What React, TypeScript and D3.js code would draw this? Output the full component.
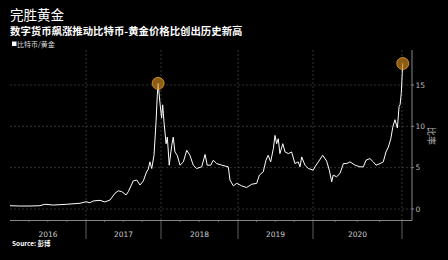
import React from "react";
import * as d3 from "d3";

const title = "完胜黄金";
const subtitle = "数字货币飙涨推动比特币-黄金价格比创出历史新高";
const legendLabel = "比特币/黄金";
const sourceText = "Source: 彭博";
const axisTitle = "比率";

const dates: string[] = [
  "2016-01-01","2016-02-17","2016-04-06","2016-05-24","2016-06-17","2016-07-27","2016-09-30","2016-12-03",
  "2017-01-01","2017-01-20","2017-02-05","2017-03-10","2017-04-03","2017-04-28","2017-05-22","2017-06-07",
  "2017-06-24","2017-07-15","2017-07-26","2017-08-19","2017-09-05","2017-09-21","2017-10-07","2017-10-23",
  "2017-10-31","2017-11-08","2017-11-17","2017-11-28","2017-12-08","2017-12-14","2017-12-18","2017-12-27",
  "2018-01-04","2018-01-09","2018-01-15","2018-01-25","2018-01-31","2018-02-09","2018-02-21","2018-02-28",
  "2018-03-08","2018-03-19","2018-04-01","2018-04-17","2018-05-03","2018-05-18","2018-06-03","2018-06-19",
  "2018-07-13","2018-07-29","2018-08-08","2018-08-25","2018-09-06","2018-09-22","2018-10-16","2018-11-16",
  "2018-11-24","2018-12-10","2018-12-26",
  "2019-01-19","2019-02-12","2019-03-09","2019-04-02","2019-04-15","2019-05-04","2019-05-17","2019-05-28",
  "2019-06-09","2019-06-22","2019-06-30","2019-07-08","2019-07-16","2019-07-24","2019-08-07","2019-08-18",
  "2019-09-03","2019-09-19","2019-10-05","2019-10-21","2019-10-30","2019-11-07","2019-11-23","2019-12-09",
  "2020-01-02","2020-01-09","2020-01-23","2020-02-10","2020-02-26","2020-03-08","2020-03-18","2020-03-24",
  "2020-04-07","2020-04-21","2020-05-05","2020-05-19","2020-06-01","2020-06-22","2020-07-12","2020-07-26",
  "2020-08-06","2020-08-22","2020-09-05","2020-09-16","2020-10-03","2020-10-16","2020-10-27","2020-11-06",
  "2020-11-16","2020-11-24","2020-12-03","2020-12-13","2020-12-20","2020-12-24","2020-12-29","2021-01-02",
  "2021-01-04",
];

const ratio: number[] = [
  0.40, 0.36, 0.36, 0.40, 0.57, 0.48, 0.57, 0.69,
  0.88, 0.76, 0.97, 1.05, 0.85, 1.09, 1.9, 2.2,
  2.1, 1.7, 2.1, 3.4, 3.5, 2.9, 3.4, 4.5,
  4.8, 5.7, 4.9, 6.5, 10.6, 13.8, 15.2, 12.8,
  11.0, 12.6, 10.6, 7.9, 8.7, 5.3, 7.7, 8.7,
  6.9, 6.5, 5.3, 5.7, 7.1, 6.5, 5.3, 4.9,
  5.1, 6.6, 5.3, 5.3, 5.9, 5.5, 5.3, 5.1,
  3.5, 2.8, 3.1,
  2.8, 2.6, 3.0, 3.1, 4.1, 4.5, 5.9, 6.5,
  5.7, 7.3, 8.9, 7.9, 8.5, 6.7, 7.9, 6.9,
  6.7, 6.9, 5.5, 5.7, 5.1, 6.3, 5.3, 4.9,
  4.7, 5.1, 5.7, 6.5, 5.8, 4.7, 3.3, 4.1,
  3.9, 4.3, 5.5, 5.5, 5.7, 5.3, 5.1, 5.1,
  5.9, 6.1, 5.7, 5.3, 5.5, 5.7, 6.9, 7.5,
  8.5, 9.9, 10.8, 9.8, 12.4, 12.6, 14.0, 16.4,
  17.6,
];

const yearLabels = ["2016", "2017", "2018", "2019", "2020"];
const yearStarts = ["2016-01-01", "2017-01-01", "2018-01-01", "2019-01-01", "2020-01-01", "2021-01-01"];
const yTicks = [0, 5, 10, 15];
const highlightDates = ["2017-12-18", "2021-01-04"];

export default function App() {
  const parse = d3.timeParse("%Y-%m-%d");
  const data = dates.map((d, i) => ({ date: parse(d) as Date, value: ratio[i] }));
  const bounds = yearStarts.map((d) => parse(d) as Date);

  const plotLeft = 10;
  const plotRight = 412;
  const plotTop = 50;
  const plotBottom = 220.5;

  const x = d3
    .scaleTime<number>()
    .domain(bounds)
    .range([10, 86, 161, 238, 313, 402]);
  const y = d3.scaleLinear().domain([0, 15]).range([209, 85]);

  const line = d3
    .line<{ date: Date; value: number }>()
    .x((d) => x(d.date))
    .y((d) => y(d.value));

  const quarterTicks: Date[] = [];
  for (let yr = 2016; yr <= 2020; yr++) {
    for (const m of [3, 6, 9]) quarterTicks.push(new Date(yr, m, 1));
  }

  const highlights = highlightDates.map((hd) => data.find((d) => +d.date === +(parse(hd) as Date))!);

  const cjk = "'Noto Sans CJK SC', 'Noto Sans', sans-serif";

  return (
    <svg
      width={448}
      height={260}
      style={{ position: "absolute", left: 0, top: 0, background: "#000", display: "block" }}
    >
      <rect x={0} y={0} width={448} height={260} fill="#000" />
      <text x={10} y={19.5} fill="#fff" fontSize={13.5} fontFamily={cjk}>
        {title}
      </text>
      <text x={10} y={34.5} fill="#fff" fontSize={10.4} fontWeight={700} fontFamily={cjk}>
        {subtitle}
      </text>
      <rect x={12} y={41.5} width={4.5} height={4.5} fill="#fff" />
      <text x={17} y={46.5} fill="#ddd" fontSize={7} fontFamily={cjk}>
        {legendLabel}
      </text>

      {yTicks.map((t) => (
        <line
          key={"hg" + t}
          x1={plotLeft}
          x2={plotRight}
          y1={y(t)}
          y2={y(t)}
          stroke="#555"
          strokeWidth={0.6}
          strokeDasharray="2,2"
        />
      ))}
      {bounds.slice(1).map((b, i) => (
        <line
          key={"vg" + i}
          x1={x(b)}
          x2={x(b)}
          y1={plotTop}
          y2={plotBottom}
          stroke="#555"
          strokeWidth={0.6}
          strokeDasharray="2,2"
        />
      ))}

      <line x1={plotLeft} x2={plotRight} y1={plotBottom} y2={plotBottom} stroke="#aaa" strokeWidth={0.8} />
      {bounds.slice(1).map((b, i) => (
        <line key={"yt" + i} x1={x(b)} x2={x(b)} y1={plotBottom} y2={239} stroke="#888" strokeWidth={0.7} />
      ))}
      {quarterTicks.map((q, i) => (
        <line key={"qt" + i} x1={x(q)} x2={x(q)} y1={plotBottom} y2={plotBottom + 1.5} stroke="#888" strokeWidth={0.7} />
      ))}
      {yearLabels.map((lab, i) => (
        <text
          key={lab}
          x={(x(bounds[i]) + x(bounds[i + 1])) / 2}
          y={237}
          fill="#ccc"
          fontSize={7.5}
          textAnchor="middle"
          fontFamily="'DejaVu Sans', sans-serif"
        >
          {lab}
        </text>
      ))}

      <line x1={plotRight} x2={plotRight} y1={plotTop} y2={plotBottom} stroke="#aaa" strokeWidth={0.8} />
      {yTicks.map((t) => (
        <g key={"yl" + t}>
          <line x1={plotRight} x2={plotRight + 2} y1={y(t)} y2={y(t)} stroke="#aaa" strokeWidth={0.8} />
          <text
            x={plotRight + 3.5}
            y={y(t)}
            dy="0.35em"
            fill="#bbb"
            fontSize={7.5}
            fontFamily="'DejaVu Sans', sans-serif"
          >
            {t}
          </text>
        </g>
      ))}
      <text
        transform={`translate(428,136) rotate(90)`}
        fill="#bbb"
        fontSize={9}
        textAnchor="middle"
        fontFamily={cjk}
      >
        {axisTitle}
      </text>

      <path d={line(data) || ""} fill="none" stroke="#fff" strokeWidth={1} strokeLinejoin="round" />

      {highlights.map((h, i) => (
        <circle
          key={"hl" + i}
          cx={x(h.date)}
          cy={y(h.value)}
          r={6}
          fill="#c8821c"
          fillOpacity={0.7}
          stroke="#e8a02e"
          strokeWidth={0.8}
        />
      ))}

      <text x={12} y={246} fill="#fff" fontSize={6.5} fontWeight={700} fontFamily={cjk}>
        {sourceText}
      </text>
    </svg>
  );
}
